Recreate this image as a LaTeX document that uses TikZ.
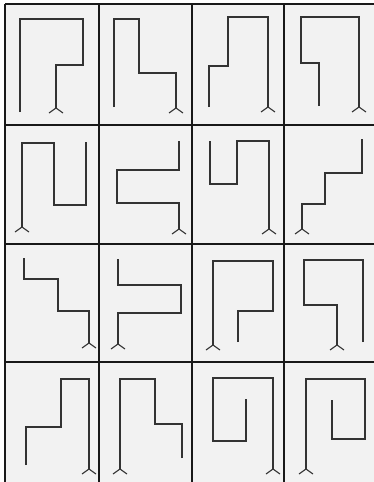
\documentclass[tikz,border=0pt]{standalone}
\begin{document}
\begin{tikzpicture}[x=1pt,y=-1pt,
  gridline/.style={line width=2.2pt,draw=black!90},
  maze/.style={line width=1.1pt,draw=black!80,line join=miter},
  fork/.pic={\draw[maze,line join=round] (-7,5)--(0,0)--(7,5);}]
\useasboundingbox (0,0) rectangle (374,482);
\fill[white] (0,0) rectangle (374,482);
\fill[black!5] (5,4) rectangle (374,482);
% grid
\foreach \x in {5,99,192,284} \draw[gridline] (\x,4) -- (\x,482);
\foreach \y in {4,125,244,362} \draw[gridline] (5,\y) -- (374,\y);
% row 1
\draw[maze] (20,112)--(20,19)--(83,19)--(83,65)--(56,65)--(56,108) pic{fork};
\draw[maze] (114,107)--(114,19)--(139,19)--(139,73)--(176,73)--(176,108) pic{fork};
\draw[maze] (209,107)--(209,66)--(228,66)--(228,17)--(268,17)--(268,107) pic{fork};
\draw[maze] (319,106)--(319,63)--(301,63)--(301,17)--(359,17)--(359,107) pic{fork};
% row 2
\draw[maze] (86,142)--(86,205)--(54,205)--(54,143)--(22,143)--(22,227) pic{fork};
\draw[maze] (179,141)--(179,170)--(117,170)--(117,203)--(179,203)--(179,229) pic{fork};
\draw[maze] (210,141)--(210,184)--(237,184)--(237,141)--(269,141)--(269,229) pic{fork};
\draw[maze] (362,139)--(362,173)--(325,173)--(325,204)--(302,204)--(302,229) pic{fork};
% row 3
\draw[maze] (24,258)--(24,279)--(58,279)--(58,311)--(89,311)--(89,343) pic{fork};
\draw[maze] (118,259)--(118,285)--(181,285)--(181,313)--(118,313)--(118,344) pic{fork};
\draw[maze] (238,342)--(238,311)--(273,311)--(273,261)--(213,261)--(213,345) pic{fork};
\draw[maze] (363,342)--(363,260)--(304,260)--(304,305)--(337,305)--(337,345) pic{fork};
% row 4
\draw[maze] (26,465)--(26,427)--(61,427)--(61,379)--(89,379)--(89,469) pic{fork};
\draw[maze] (182,458)--(182,424)--(155,424)--(155,379)--(120,379)--(120,469) pic{fork};
\draw[maze] (246,399)--(246,441)--(213,441)--(213,378)--(273,378)--(273,469) pic{fork};
\draw[maze] (332,400)--(332,439)--(365,439)--(365,379)--(306,379)--(306,469) pic{fork};
\end{tikzpicture}
\end{document}
